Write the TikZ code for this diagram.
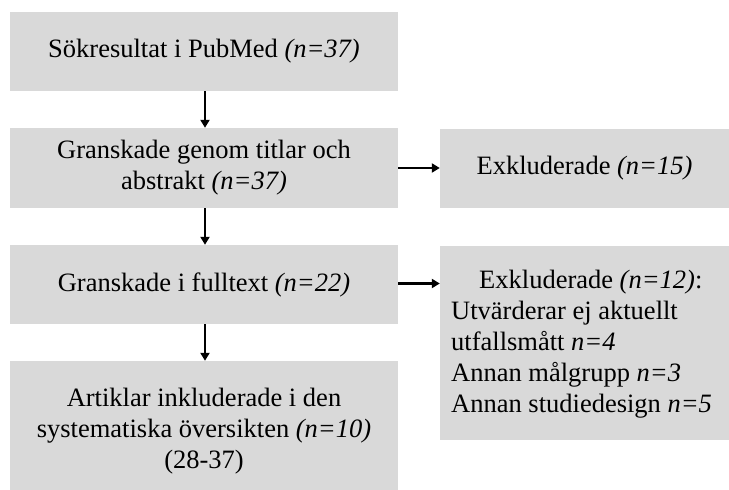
\documentclass[tikz,border=0pt]{standalone}
\usepackage{fontspec}
\setmainfont{Liberation Serif}
\usetikzlibrary{arrows.meta}
\begin{document}
\begin{tikzpicture}[x=1pt,y=1pt,
  box/.style={fill=boxgray, draw=none, inner sep=0pt, align=center,
    font=\fontsize{26.5}{31}\selectfont},
  txt/.style={inner sep=0pt, font=\fontsize{26.5}{31}\selectfont},
  arr/.style={-{Triangle[length=8pt,width=9pt]}, line width=2.6pt}]
\definecolor{boxgray}{HTML}{D9D9D9}
\useasboundingbox (0,0) rectangle (729,490);
\node[box, minimum width=388pt, minimum height=79pt] (b1) at (204,438.5) {S\"okresultat i PubMed \textit{(n=37)}};
\node[box, minimum width=388pt, minimum height=80pt] (b2) at (204,322) {Granskade genom titlar och\\abstrakt \textit{(n=37)}};
\node[box, minimum width=388pt, minimum height=79pt] (b3) at (204,205.5) {Granskade i fulltext \textit{(n=22)}};
\node[box, minimum width=388pt, minimum height=129pt] (b4) at (204,64.5) {};
\node[txt, align=center] (t4) at (204,58.5) {Artiklar inkluderade i den\\systematiska \"oversikten \textit{(n=10)}\\(28-37)};
\node[box, minimum width=289pt, minimum height=79pt] (r1) at (584.5,321.5) {Exkluderade \textit{(n=15)}};
\node[box, minimum width=289pt, minimum height=194pt] (r2) at (584.5,147) {};
\node[txt, align=left, anchor=west] (t2) at (451,145.5) {\hspace*{28pt}Exkluderade \textit{(n=12)}:\\Utv\"arderar ej aktuellt\\utfallsm\aa tt \textit{n=4}\\Annan m\aa lgrupp \textit{n=3}\\Annan studiedesign \textit{n=5}};
\draw[arr] ([xshift=1pt]b1.south) -- ([xshift=1pt]b2.north);
\draw[arr] ([xshift=1pt]b2.south) -- ([xshift=1pt]b3.north);
\draw[arr] ([xshift=1pt]b3.south) -- ([xshift=1pt]b4.north);
\draw[arr] (b2.east) -- (b2.east -| r1.west);
\draw[arr] ([yshift=1pt]b3.east) -- ([yshift=1pt]b3.east -| r2.west);
\end{tikzpicture}
\end{document}
